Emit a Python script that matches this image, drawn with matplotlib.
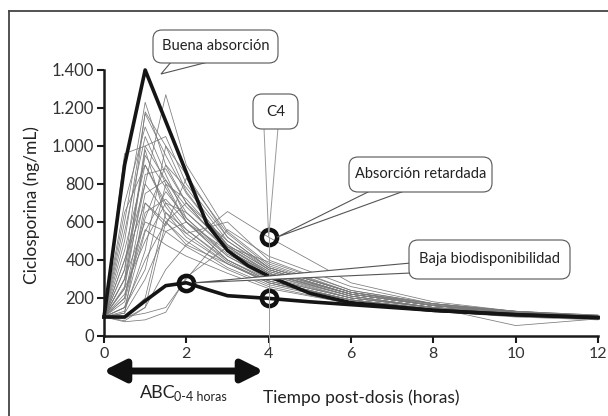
import matplotlib
matplotlib.use("Agg")
import matplotlib.pyplot as plt
from matplotlib.patches import FancyBboxPatch, Polygon
from matplotlib.lines import Line2D
from matplotlib.transforms import IdentityTransform
from matplotlib.ticker import FuncFormatter

plt.rcParams['font.family'] = ['Lato', 'DejaVu Sans']

# Sampling times (hours)
horas = [0, 0.5, 1, 1.5, 2, 3, 4, 6, 8, 10, 12]
horas_perfil = [0, 0.5, 1, 1.5, 2, 2.5, 3, 3.5, 4, 5, 6, 8, 10, 12]

# Highlighted profiles (ng/mL)
buena_absorcion = [100, 900, 1400, 1130, 860, 590, 450, 370, 315, 225, 175, 135, 112, 97]
baja_biodisp = [100, 100, 185, 265, 280, 245, 212, 205, 198, 180, 165, 135, 112, 97]

# Individual patient profiles (ng/mL)
paciente_01 = [100, 960, 1000, 820, 650, 450, 330, 220, 160, 120, 100]
paciente_02 = [100, 600, 1230, 900, 700, 450, 320, 200, 150, 120, 100]
paciente_03 = [100, 400, 800, 1270, 900, 550, 380, 230, 160, 130, 110]
paciente_04 = [100, 500, 1170, 950, 750, 480, 350, 220, 160, 120, 100]
paciente_05 = [100, 700, 1100, 850, 620, 420, 300, 200, 150, 120, 100]
paciente_06 = [100, 300, 1000, 1050, 800, 520, 360, 230, 170, 130, 110]
paciente_07 = [100, 350, 950, 780, 600, 400, 290, 190, 140, 110, 95]
paciente_08 = [100, 450, 900, 700, 560, 390, 280, 180, 140, 110, 95]
paciente_09 = [100, 250, 850, 880, 700, 450, 330, 210, 150, 120, 100]
paciente_10 = [100, 300, 800, 650, 520, 380, 290, 190, 140, 110, 90]
paciente_11 = [100, 200, 750, 820, 680, 470, 340, 220, 160, 120, 100]
paciente_12 = [100, 400, 700, 600, 500, 360, 270, 180, 140, 110, 90]
paciente_13 = [100, 200, 650, 720, 600, 420, 310, 200, 150, 115, 95]
paciente_14 = [100, 300, 600, 550, 470, 350, 260, 170, 130, 100, 85]
paciente_15 = [100, 150, 550, 760, 620, 430, 320, 210, 150, 120, 100]
paciente_16 = [100, 250, 500, 700, 650, 460, 340, 220, 160, 125, 100]
paciente_17 = [100, 150, 400, 600, 700, 500, 360, 230, 170, 130, 105]
paciente_18 = [100, 150, 350, 800, 720, 480, 350, 220, 160, 120, 100]
paciente_19 = [100, 120, 300, 550, 600, 450, 330, 210, 150, 55, 90]
paciente_20 = [100, 100, 200, 650, 560, 400, 300, 200, 150, 115, 95]
paciente_21 = [100, 80, 150, 600, 480, 380, 280, 190, 140, 110, 90]
paciente_22 = [100, 90, 150, 350, 480, 655, 520, 280, 180, 130, 105]
paciente_23 = [100, 100, 120, 150, 300, 560, 420, 260, 170, 130, 100]
paciente_24 = [100, 75, 85, 125, 310, 470, 390, 240, 170, 125, 100]
paciente_25 = [100, 130, 450, 1000, 850, 520, 360, 230, 160, 125, 100]
paciente_26 = [100, 550, 1050, 800, 600, 400, 290, 190, 140, 110, 95]
paciente_27 = [100, 650, 900, 680, 540, 380, 280, 190, 145, 115, 95]
paciente_28 = [100, 180, 620, 900, 780, 500, 350, 220, 160, 120, 100]
paciente_29 = [100, 350, 1180, 1000, 760, 470, 330, 210, 150, 115, 95]
paciente_30 = [100, 220, 560, 480, 420, 330, 250, 170, 130, 105, 90]
paciente_31 = [100, 120, 700, 580, 830, 540, 370, 230, 165, 125, 100]
paciente_32 = [100, 260, 980, 620, 540, 600, 400, 240, 170, 125, 100]

pacientes = [paciente_01, paciente_02, paciente_03, paciente_04, paciente_05,
             paciente_06, paciente_07, paciente_08, paciente_09, paciente_10,
             paciente_11, paciente_12, paciente_13, paciente_14, paciente_15,
             paciente_16, paciente_17, paciente_18, paciente_19, paciente_20,
             paciente_21, paciente_22, paciente_23, paciente_24, paciente_25,
             paciente_26, paciente_27, paciente_28, paciente_29, paciente_30,
             paciente_31, paciente_32]
paciente_retardada = paciente_22

y_ticks = [0, 200, 400, 600, 800, 1000, 1200, 1400]
x_ticks = [0, 2, 4, 6, 8, 10, 12]

W, H = 608, 416
fig = plt.figure(figsize=(W / 100, H / 100), dpi=100)
ax = fig.add_axes([104 / W, 1 - 336 / H, 494 / W, 266 / H])
ident = IdentityTransform()


def P(x, y):
    """image pixel (origin top-left) -> display coords"""
    return (x, H - y)


def D(t, v):
    return tuple(ax.transData.transform((t, v)))


# thin patient curves
for serie in pacientes:
    ax.plot(horas, serie, color='#7a7a7a', lw=0.55, clip_on=False, zorder=2)

# highlighted profiles
ax.plot(horas_perfil, buena_absorcion, color='#151515', lw=2.6, clip_on=False, zorder=4)
ax.plot(horas_perfil, baja_biodisp, color='#151515', lw=2.6, clip_on=False, zorder=4)

ax.set_xlim(0, 12)
ax.set_ylim(0, 1400)
ax.set_xticks(x_ticks)
ax.set_yticks(y_ticks)
ax.yaxis.set_major_formatter(FuncFormatter(lambda v, p: f"{v:,.0f}".replace(",", ".")))
for s in ['top', 'right']:
    ax.spines[s].set_visible(False)
for s in ['left', 'bottom']:
    ax.spines[s].set_linewidth(1.8)
    ax.spines[s].set_color('#1a1a1a')
ax.tick_params(direction='out', length=5, width=1.5, labelsize=12,
               colors='#1a1a1a', labelcolor='#333333')
ax.tick_params(axis='x', labelsize=11.5, pad=3)
ax.tick_params(axis='y', pad=2)

# C4 callout: vertical guide at 4 h
c4_t = horas[horas.index(4)]
tip = D(c4_t, paciente_retardada[horas.index(4)])
bottom = (tip[0], H - 346)
fig.add_artist(Line2D([tip[0], bottom[0]], [tip[1], bottom[1]],
                      transform=ident, color='#999999', lw=0.7, zorder=3))
fig.add_artist(Polygon([P(264, 128), tip, P(278, 128)], closed=False, fill=False,
                       transform=ident, edgecolor='#999999', lw=0.7, zorder=3))

# open circles on key points
circ = dict(marker='o', markersize=11, markerfacecolor='none',
            markeredgecolor='#111111', markeredgewidth=3.2, clip_on=False, zorder=6)
ax.plot([2], [baja_biodisp[horas_perfil.index(2)]], **circ)
ax.plot([4], [baja_biodisp[horas_perfil.index(4)]], **circ)
ax.plot([4], [paciente_retardada[horas.index(4)]], **circ)


def callout(x0, y0, x1, y1, text, tail, size=10.5):
    poly = Polygon(tail, closed=True, facecolor='white', edgecolor='#555555',
                   lw=0.8, transform=ident, zorder=7)
    fig.add_artist(poly)
    (ax_, ay_), (bx_, by_) = P(x0, y1), P(x1, y0)
    box = FancyBboxPatch((ax_, ay_), bx_ - ax_, by_ - ay_,
                         boxstyle="round,pad=0,rounding_size=9",
                         facecolor='white', edgecolor='#555555', lw=0.8,
                         transform=ident, zorder=8)
    fig.add_artist(box)
    cx, cy = P((x0 + x1) / 2, (y0 + y1) / 2)
    fig.text(cx / W, cy / H, text, ha='center', va='center', fontsize=size,
             color='#222222', zorder=9)


callout(153, 30, 278, 63, "Buena absorción",
        [P(172, 61), P(161, 74), P(212, 61)])
callout(253, 94, 298, 129, "C4", [P(266, 127), P(276, 127), P(271, 127)], size=11)
callout(349, 157, 492, 192, "Absorción retardada",
        [P(372, 190), D(4.2, paciente_retardada[horas.index(4)]), P(407, 190)])
callout(409, 240, 570, 279, "Baja biodisponibilidad",
        [P(411, 263), D(2.2, baja_biodisp[horas_perfil.index(2)]), P(411, 273)])

# ABC 0-4 h double arrow
ax.annotate('', xy=P(103, 371), xytext=P(264, 371), xycoords=ident, textcoords=ident,
            arrowprops=dict(arrowstyle='<|-|>,head_length=1.3,head_width=0.65',
                            lw=5, color='#111111', shrinkA=0, shrinkB=0),
            annotation_clip=False)
fig.text(140 / W, 1 - 398 / H, "ABC", fontsize=13, color='#222222', va='baseline')
fig.text(174 / W, 1 - 401 / H, "0-4 horas", fontsize=9, color='#222222', va='baseline')

fig.text(263 / W, 1 - 403 / H, "Tiempo post-dosis (horas)", fontsize=12.5,
         color='#222222', va='baseline', ha='left')
fig.text(32 / W, 1 - 205 / H, "Ciclosporina (ng/mL)", fontsize=12.5, color='#222222',
         rotation=90, ha='center', va='center')

# frame around figure
fig.add_artist(Line2D([9, W], [H - 11, H - 11], transform=ident, color='#444444', lw=1.3))
fig.add_artist(Line2D([9, 9], [H - 11, 0], transform=ident, color='#444444', lw=1.3))

fig.savefig("out.png", dpi=100, facecolor='white')
